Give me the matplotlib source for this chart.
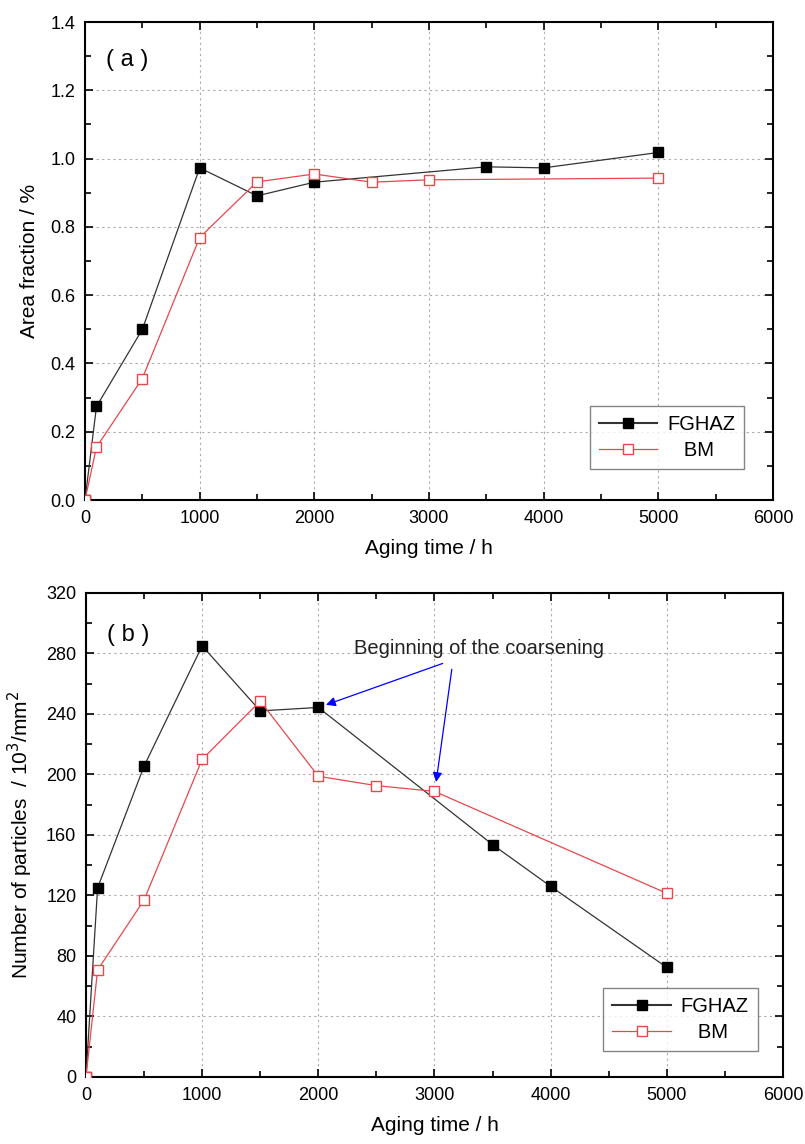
import matplotlib.pyplot as plt
from matplotlib.ticker import MultipleLocator

plt.rcParams['font.family'] = ['Liberation Sans', 'DejaVu Sans']

# (a) area fraction
time_a_fghaz = [0, 100, 500, 1000, 1500, 2000, 3500, 4000, 5000]
area_fghaz = [0.0, 0.274, 0.50, 0.973, 0.891, 0.931, 0.976, 0.973, 1.018]
time_a_bm = [0, 100, 500, 1000, 1500, 2000, 2500, 3000, 5000]
area_bm = [0.0, 0.155, 0.356, 0.769, 0.932, 0.955, 0.931, 0.938, 0.943]

# (b) number of particles
time_b_fghaz = [0, 100, 500, 1000, 1500, 2000, 3500, 4000, 5000]
num_fghaz = [0, 125, 205.5, 285, 242, 244.3, 153.6, 126, 72.4]
time_b_bm = [0, 100, 500, 1000, 1500, 2000, 2500, 3000, 5000]
num_bm = [0, 70.7, 117, 210, 248.5, 198.8, 192.6, 188.8, 121.4]

fig = plt.figure(figsize=(8.05, 11.44), dpi=100)
ax1 = fig.add_axes([0.1056, 0.5629, 0.8547, 0.4178])
ax2 = fig.add_axes([0.1068, 0.0586, 0.8659, 0.4231])


def style(ax):
    ax.set_xlim(0, 6000)
    ax.xaxis.set_major_locator(MultipleLocator(1000))
    ax.xaxis.set_minor_locator(MultipleLocator(500))
    ax.tick_params(which='both', direction='in', top=True, right=True,
                   labelsize=13, width=1.2, pad=7)
    ax.tick_params(which='major', length=6)
    ax.tick_params(which='minor', length=4)
    ax.grid(True, which='major', linestyle=(0, (2, 3)), color='#aaaaaa', linewidth=0.8)
    for s in ax.spines.values():
        s.set_linewidth(1.5)
    ax.set_xlabel('Aging time / h', fontsize=15, labelpad=9)


def draw(ax, tf, yf, tb, yb):
    ax.plot(tf, yf, color='#333333', linewidth=0.9, marker='s', markersize=7.5,
            markerfacecolor='black', markeredgecolor='black', label='FGHAZ',
            zorder=3)
    ax.plot(tb, yb, color='#e8474c', linewidth=0.9, marker='s', markersize=7.5,
            markerfacecolor='white', markeredgecolor='#e8474c', label='   BM',
            zorder=3)


def legend(ax, anchor):
    leg = ax.legend(loc='lower right', bbox_to_anchor=anchor, fontsize=14.5,
                    frameon=True, fancybox=False, edgecolor='#666666',
                    handlelength=2.9, handletextpad=0.5, borderpad=0.45,
                    labelspacing=0.35, borderaxespad=0)
    leg.get_frame().set_linewidth(1.0)
    leg.get_lines()[0].set_linewidth(1.5)


draw(ax1, time_a_fghaz, area_fghaz, time_a_bm, area_bm)
style(ax1)
ax1.set_ylim(0, 1.4)
ax1.yaxis.set_major_locator(MultipleLocator(0.2))
ax1.yaxis.set_minor_locator(MultipleLocator(0.1))
ax1.yaxis.set_major_formatter(plt.FormatStrFormatter('%.1f'))
ax1.set_ylabel('Area fraction / %', fontsize=15, labelpad=8)
ax1.text(185, 1.289, '( a )', fontsize=17, va='center', ha='left')
legend(ax1, (0.958, 0.065))

draw(ax2, time_b_fghaz, num_fghaz, time_b_bm, num_bm)
style(ax2)
ax2.set_ylim(0, 320)
ax2.yaxis.set_major_locator(MultipleLocator(40))
ax2.yaxis.set_minor_locator(MultipleLocator(20))
ax2.set_ylabel('Number of particles  / 10$^3$/mm$^2$', fontsize=15, labelpad=8)
ax2.text(185, 292.5, '( b )', fontsize=17, va='center', ha='left')
ax2.text(3386, 283, 'Beginning of the coarsening', fontsize=14.5, ha='center',
         va='center', color='#222222')
ax2.annotate('', xy=(2066, 246), xytext=(3071, 273.4),
             arrowprops=dict(arrowstyle='-|>', color='blue', lw=0.9,
                             mutation_scale=14, shrinkA=0, shrinkB=0))
ax2.annotate('', xy=(3014, 195), xytext=(3149, 269.5),
             arrowprops=dict(arrowstyle='-|>', color='blue', lw=0.9,
                             mutation_scale=14, shrinkA=0, shrinkB=0))
legend(ax2, (0.964, 0.054))

fig.savefig('out.png', dpi=100)
